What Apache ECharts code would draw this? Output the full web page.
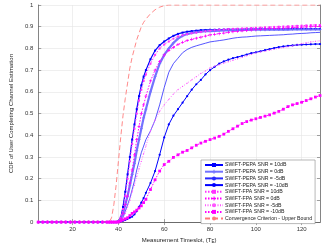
<!DOCTYPE html>
<html><head><meta charset="utf-8">
<script src="https://cdn.jsdelivr.net/npm/echarts@6/dist/echarts.min.js"></script>
<style>html,body{margin:0;padding:0;background:#fff}#c{width:329px;height:249px}</style>
</head><body><div id="c"></div>
<script>
// Measurement timeslot values (x)
const X = [5,7,9,11,13,15,17,19,21,23,25,27,29,31,33,35,
  36,37,38,39,40,41,42,43,44,45,46,47,48,49,50,51,52,
  54,56,58,60,62,64,66,68,70,72,74,76,78,80,82,84,86,88,90,92,94,96,98,100,102,104,106,108,110,112,114,116,118,120,122,124,126,128];

const pepa10 = [0,0,0,0,0,0,0,0,0,0,0,0,0,0,0,0,
  0,0,0,0,0.005,0.02,0.07,0.14,0.22,0.30,0.38,0.45,0.52,0.58,0.63,0.67,0.70,
  0.75,0.79,0.815,0.832,0.846,0.858,0.867,0.873,0.877,0.880,0.882,0.884,0.885,0.886,0.886,0.887,0.887,0.888,0.888,0.888,0.888,0.889,0.889,0.889,0.889,0.889,0.889,0.889,0.889,0.889,0.89,0.89,0.89,0.89,0.89,0.89,0.89,0.89];
const pepa0 = [0,0,0,0,0,0,0,0,0,0,0,0,0,0,0,0,
  0,0,0,0,0.003,0.015,0.04,0.08,0.12,0.17,0.22,0.27,0.33,0.38,0.43,0.48,0.52,
  0.6,0.67,0.73,0.77,0.8,0.825,0.845,0.858,0.866,0.871,0.875,0.877,0.879,0.88,0.881,0.882,0.883,0.883,0.884,0.884,0.885,0.885,0.886,0.886,0.886,0.886,0.887,0.887,0.887,0.887,0.887,0.888,0.888,0.888,0.888,0.888,0.888,0.888];
const pepaM5 = [0,0,0,0,0,0,0,0,0,0,0,0,0,0,0,0,
  0,0,0,0,0.002,0.01,0.02,0.05,0.08,0.11,0.15,0.19,0.24,0.28,0.32,0.35,0.38,
  0.42,0.47,0.54,0.62,0.69,0.73,0.755,0.78,0.795,0.805,0.812,0.818,0.824,0.83,0.833,0.836,0.839,0.843,0.847,0.85,0.852,0.853,0.855,0.857,0.858,0.859,0.86,0.861,0.862,0.863,0.865,0.866,0.868,0.869,0.87,0.872,0.873,0.874];
const pepaM10 = [0,0,0,0,0,0,0,0,0,0,0,0,0,0,0,0,
  0,0,0,0,0,0.003,0.006,0.01,0.015,0.02,0.025,0.035,0.05,0.07,0.09,0.11,0.135,
  0.18,0.235,0.31,0.39,0.45,0.49,0.52,0.55,0.58,0.61,0.635,0.655,0.68,0.70,0.715,0.73,0.74,0.748,0.755,0.76,0.766,0.772,0.778,0.782,0.787,0.792,0.797,0.802,0.806,0.809,0.812,0.814,0.816,0.817,0.818,0.819,0.82,0.82];
const fpa10 = [0,0,0,0,0,0,0,0,0,0,0,0,0,0,0,0,
  0,0,0,0,0.004,0.02,0.06,0.12,0.2,0.28,0.36,0.43,0.5,0.56,0.61,0.65,0.68,
  0.73,0.77,0.80,0.818,0.832,0.845,0.855,0.861,0.866,0.87,0.873,0.876,0.879,0.882,0.884,0.886,0.887,0.889,0.89,0.891,0.892,0.893,0.894,0.895,0.896,0.897,0.898,0.899,0.9,0.901,0.902,0.903,0.904,0.905,0.906,0.907,0.908,0.908];
const fpa0 = [0,0,0,0,0,0,0,0,0,0,0,0,0,0,0,0,
  0,0,0,0,0.003,0.015,0.04,0.08,0.12,0.18,0.24,0.31,0.38,0.44,0.5,0.54,0.58,
  0.65,0.7,0.74,0.77,0.79,0.805,0.818,0.828,0.836,0.842,0.847,0.852,0.857,0.862,0.865,0.868,0.871,0.874,0.877,0.879,0.881,0.883,0.885,0.886,0.888,0.889,0.891,0.892,0.893,0.894,0.895,0.896,0.897,0.898,0.899,0.9,0.901,0.902];
const fpaM5 = [0,0,0,0,0,0,0,0,0,0,0,0,0,0,0,0,
  0,0,0,0,0.002,0.008,0.02,0.04,0.07,0.1,0.14,0.17,0.21,0.245,0.28,0.315,0.35,
  0.42,0.47,0.51,0.54,0.565,0.59,0.61,0.625,0.64,0.655,0.67,0.685,0.697,0.71,0.718,0.725,0.732,0.739,0.745,0.752,0.759,0.766,0.773,0.78,0.784,0.788,0.792,0.796,0.8,0.804,0.808,0.812,0.816,0.822,0.826,0.83,0.833,0.835];
const fpaM10 = [0,0,0,0,0,0,0,0,0,0,0,0,0,0,0,0,
  0,0,0,0,0,0.005,0.01,0.015,0.02,0.03,0.04,0.047,0.055,0.065,0.075,0.09,0.105,
  0.15,0.195,0.235,0.265,0.28,0.298,0.31,0.322,0.33,0.342,0.354,0.364,0.372,0.38,0.387,0.395,0.405,0.418,0.43,0.442,0.454,0.463,0.47,0.476,0.482,0.488,0.494,0.502,0.51,0.52,0.532,0.54,0.546,0.552,0.56,0.568,0.576,0.583];
const conv = [0,0,0,0,0,0,0,0,0,0,0,0,0,0,0,0,
  0,0.02,0.08,0.17,0.28,0.39,0.49,0.57,0.64,0.71,0.76,0.8,0.84,0.87,0.9,0.92,0.935,
  0.96,0.978,0.99,0.997,1,1,1,1,1,1,1,1,1,1,1,1,1,1,1,1,1,1,1,1,1,1,1,1,1,1,1,1,1,1,1,1,1,1,1,1];

const names = ['SWIFT-PEPA SNR = 10dB','SWIFT-PEPA SNR = 0dB','SWIFT-PEPA SNR = -5dB','SWIFT-PEPA SNR = -10dB',
  'SWIFT-FPA SNR = 10dB','SWIFT-FPA SNR = 0dB','SWIFT-FPA SNR = -5dB','SWIFT-FPA SNR = -10dB',
  'Convergence Criterion - Upper Bound'];
const xTicks = [20,40,60,80,100,120];

const PLUS = 'path://M3,0H5V3H8V5H5V8H3V5H0V3H3Z';
function mk(name, ys, color, lw, ltype, symbol, ssize) {
  return {
    name, type:'line', data: X.map((x,i)=>[x, ys[i]]),
    lineStyle:{color, width:lw, type:ltype},
    itemStyle:{color},
    symbol: symbol, symbolSize: ssize, showSymbol: symbol !== 'none', showAllSymbol:true,
    animation:false, silent:true
  };
}
const series = [
  mk(names[0], pepa10, '#0000ff', 1.2, 'solid', 'rect', 2),
  mk(names[1], pepa0, '#7272ff', 2.2, 'solid', PLUS, 3),
  mk(names[2], pepaM5, '#2a2aff', 0.8, 'solid', 'none', 1),
  mk(names[3], pepaM10, '#0000ff', 1.0, 'solid', 'circle', 2.2),
  mk(names[4], fpa10, '#ff33ff', 1.0, [1.5,1.5], 'rect', 2),
  mk(names[5], fpa0, '#ff00ff', 1.0, [1.5,1.5], PLUS, 3),
  mk(names[6], fpaM5, '#ff55ff', 0.8, [1,1.5], 'circle', 1.2),
  mk(names[7], fpaM10, '#ff00ff', 1.0, [1.5,1.5], 'rect', 2.8),
  mk(names[8], conv, '#ff7a7a', 0.9, [5,3], 'none', 1)
];

const axisCol = '#666';
const chart = echarts.init(document.getElementById('c'), null, {renderer:'canvas'});
chart.setOption({
  animation:false,
  textStyle:{fontFamily:'Liberation Sans, Arial, sans-serif'},
  grid:{left:37, right:9, top:5, bottom:21},
  legend:{
    data:names, orient:'vertical', left:201, top:160,
    padding:[2,3,2,3], itemWidth:18, itemHeight:5, itemGap:0.7,
    backgroundColor:'#fff', borderColor:'#888', borderWidth:0.6,
    textStyle:{fontSize:5.2, lineHeight:6, color:'#222', padding:[0,0,0,-3], fontFamily:'Liberation Sans, Arial, sans-serif'}
  },
  xAxis:[{
    type:'value', min:5, max:128, position:'bottom',
    axisLine:{lineStyle:{color:axisCol, width:0.8}},
    axisTick:{inside:true, length:3, customValues:xTicks, lineStyle:{color:axisCol, width:0.6}},
    axisLabel:{customValues:xTicks, fontSize:6, color:'#333', margin:4},
    splitLine:{show:true, lineStyle:{color:'#e4e4e4', width:0.6}},
    name:'Measurement Timeslot, (T{s|E})', nameLocation:'middle', nameGap:13,
    nameTextStyle:{fontSize:6, color:'#222', rich:{s:{fontSize:4.5, padding:[3,0,0,0], color:'#222'}}}
  },{
    type:'value', min:5, max:128, position:'top',
    axisLine:{lineStyle:{color:axisCol, width:0.8}},
    axisTick:{inside:true, length:3, customValues:xTicks, lineStyle:{color:axisCol, width:0.6}},
    axisLabel:{show:false}, splitLine:{show:false}
  }],
  yAxis:[{
    type:'value', min:0, max:1, interval:0.1, position:'left',
    axisLine:{show:true, lineStyle:{color:axisCol, width:0.8}},
    axisTick:{show:true, inside:true, length:3, lineStyle:{color:axisCol, width:0.6}},
    axisLabel:{fontSize:6, color:'#333', margin:5},
    splitLine:{show:true, lineStyle:{color:'#e4e4e4', width:0.6}},
    name:'CDF of User Completing Channel Estimation', nameLocation:'middle', nameGap:16,
    nameTextStyle:{fontSize:6, color:'#222'}
  },{
    type:'value', min:0, max:1, interval:0.1, position:'right',
    axisLine:{show:true, lineStyle:{color:axisCol, width:0.8}},
    axisTick:{show:true, inside:true, length:3, lineStyle:{color:axisCol, width:0.6}},
    axisLabel:{show:false}, splitLine:{show:false}
  }],
  series
});
</script></body></html>
